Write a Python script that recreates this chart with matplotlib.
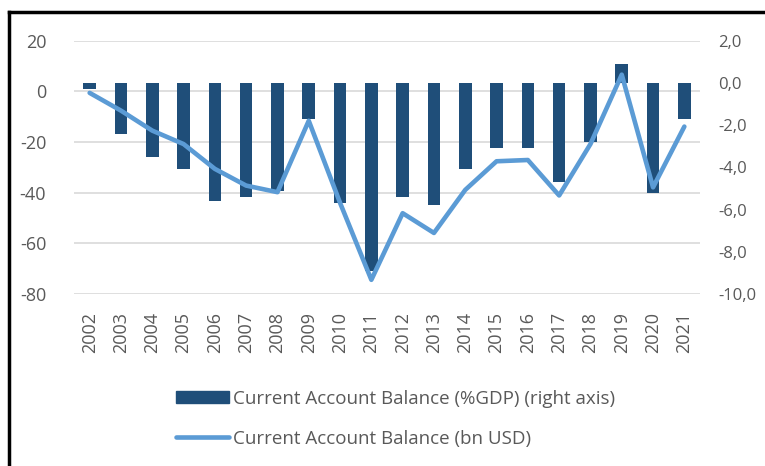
import numpy as np
import matplotlib
matplotlib.use("Agg")
import matplotlib.pyplot as plt
from matplotlib.lines import Line2D
from matplotlib.patches import Patch
from matplotlib.ticker import FuncFormatter

# ---- data ----
years = [str(y) for y in range(2002, 2022)]
ca_gdp = [-0.3, -2.4, -3.5, -4.1, -5.6, -5.4, -5.1, -1.7, -5.7, -8.9,
          -5.4, -5.8, -4.1, -3.1, -3.1, -4.7, -2.8, 0.9, -5.2, -1.7]
ca_usd = [-0.6, -7.6, -15.5, -20.8, -30.6, -37.2, -39.8, -11.6, -44.0, -74.4,
          -48.1, -55.9, -38.9, -27.6, -27.1, -41.1, -20.8, 6.6, -37.9, -13.9]
left_ticks = [20, 0, -20, -40, -60, -80]
right_ticks = [2.0, 0.0, -2.0, -4.0, -6.0, -8.0, -10.0]

BAR = "#1F4E79"
LINE = "#5B9BD5"
GRID = "#D9D9D9"
TXT = "#595959"

plt.rcParams["font.family"] = ["Open Sans", "DejaVu Sans"]
plt.rcParams["axes.unicode_minus"] = False

W, H = 765, 466
fig = plt.figure(figsize=(W / 100, H / 100), dpi=100)
fig.patch.set_facecolor("white")

rect = [74 / W, 1 - 294 / H, (700 - 74) / W, (294 - 40.7) / H]
ax = fig.add_axes(rect)
x = np.arange(len(years))

# grid axis (left scale)
ax.set_ylim(-80, 20)
ax.set_xlim(-0.5, len(years) - 0.5)
ax.set_yticks(left_ticks)
ax.yaxis.grid(True, color=GRID, linewidth=1.2)
ax.set_axisbelow(True)
ax.set_xticks(x)
ax.set_xticklabels(years, rotation=90, fontsize=13, color=TXT)
ax.tick_params(axis="x", length=0, pad=13)
ax.tick_params(axis="y", length=0, pad=20, labelsize=13, labelcolor=TXT)
for s in ax.spines.values():
    s.set_visible(False)

# bars (right scale)
axb = ax.twinx()
axb.bar(x, ca_gdp, width=0.4, color=BAR, zorder=2)
axb.set_ylim(-10, 2)
axb.set_yticks(right_ticks)
axb.yaxis.set_major_formatter(FuncFormatter(lambda v, p: f"{v:.1f}".replace(".", ",")))
axb.tick_params(axis="y", length=0, pad=13, labelsize=12, labelcolor=TXT)
for s in axb.spines.values():
    s.set_visible(False)

# line (left scale)
axl = ax.twinx()
axl.plot(x, ca_usd, color=LINE, linewidth=3.3, solid_capstyle="round",
         solid_joinstyle="round", zorder=3)
axl.set_ylim(-80, 20)
axl.set_yticks([])
for s in axl.spines.values():
    s.set_visible(False)

handles = [Patch(facecolor=BAR, edgecolor=BAR),
           Line2D([0], [0], color=LINE, linewidth=3.3, solid_capstyle="round")]
labels = ["Current Account Balance (%GDP) (right axis)",
          "Current Account Balance (bn USD)"]
fig.legend(handles, labels, loc="upper left",
           bbox_to_anchor=(176 / W, 1 - 390 / H), frameon=False,
           borderpad=0, borderaxespad=0,
           fontsize=13.5, labelcolor=TXT, handlelength=2.8, handleheight=0.6,
           handletextpad=0.25, labelspacing=1.15)

# outer frame (top and left edges only)
fig.add_artist(Line2D([8.5 / W, 1], [1 - 12 / H, 1 - 12 / H],
                      transform=fig.transFigure, color="black", linewidth=2.5))
fig.add_artist(Line2D([8.5 / W, 8.5 / W], [0, 1 - 12 / H],
                      transform=fig.transFigure, color="black", linewidth=2.5))

plt.savefig("out.png", dpi=100, facecolor="white")
